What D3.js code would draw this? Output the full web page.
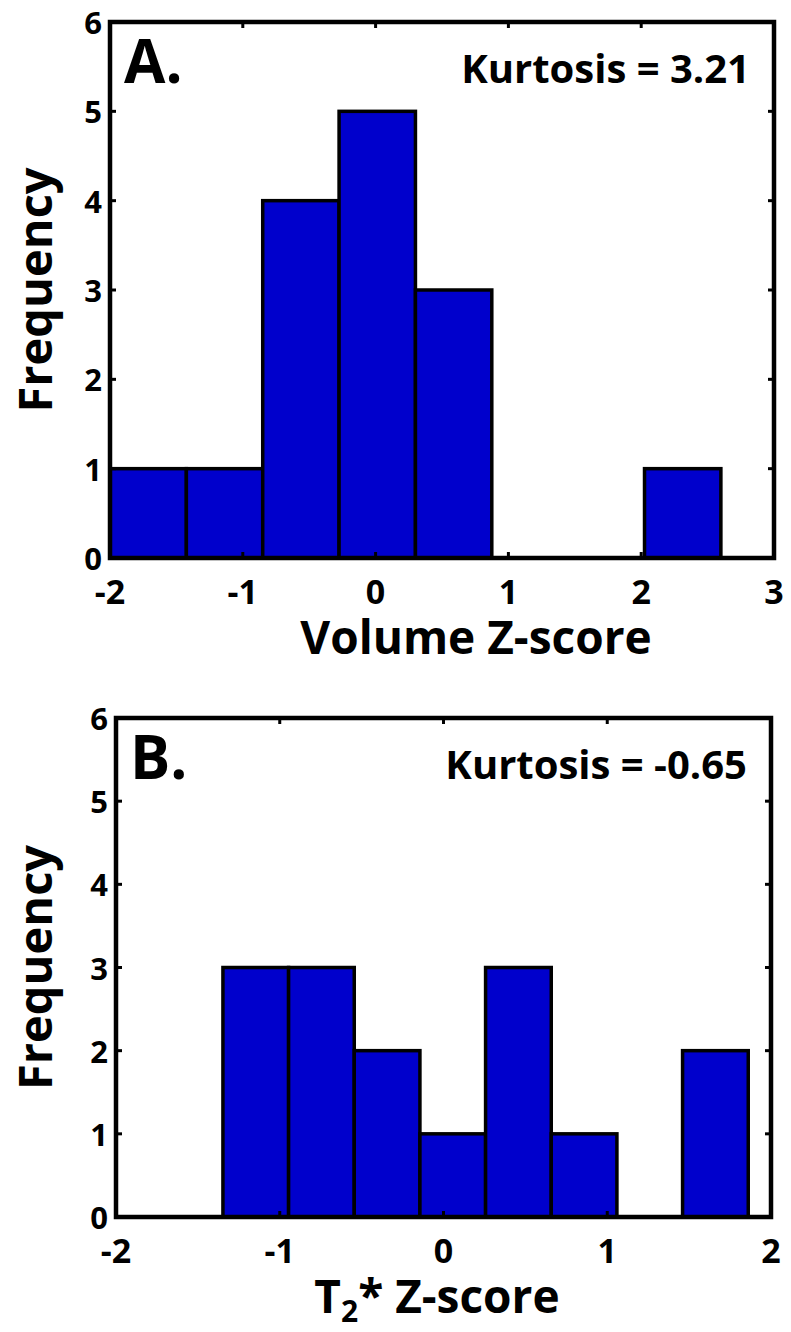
<!DOCTYPE html>
<html>
<head>
<meta charset="utf-8">
<script src="https://cdn.jsdelivr.net/npm/d3@7"></script>
<style>
  body { margin: 0; background: #fff; }
  text { font-family: "Open Sans", sans-serif; font-weight: 700; fill: #000; }
</style>
</head>
<body>
<div id="vis"></div>
<script>
// histogram bins
const edgesA = [-2, -1.425, -0.85, -0.275, 0.30, 0.875, 1.45, 2.025, 2.60];
const countsA = [1, 1, 4, 5, 3, 0, 0, 1];
const edgesB = [-1.347, -0.946, -0.545, -0.144, 0.257, 0.658, 1.059, 1.46, 1.861];
const countsB = [3, 3, 2, 1, 3, 1, 0, 2];
const xTicksA = [-2, -1, 0, 1, 2, 3];
const xTicksB = [-2, -1, 0, 1, 2];
const yTicks = [0, 1, 2, 3, 4, 5, 6];

const W = 791, H = 1332;
const svg = d3.select("#vis").append("svg").attr("width", W).attr("height", H);

function drawPanel(cfg) {
  const x = d3.scaleLinear().domain(cfg.xDomain).range([cfg.left, cfg.right]);
  const y = d3.scaleLinear().domain([0, 6]).range([cfg.bottom, cfg.top]);
  const g = svg.append("g");

  const bins = cfg.counts.map((c, i) => ({x0: cfg.edges[i], x1: cfg.edges[i + 1], n: c}));
  g.selectAll("rect.bar").data(bins.filter(d => d.n > 0)).enter().append("rect")
    .attr("class", "bar")
    .attr("x", d => x(d.x0))
    .attr("y", d => y(d.n))
    .attr("width", d => x(d.x1) - x(d.x0))
    .attr("height", d => y(0) - y(d.n))
    .attr("fill", "#0000cc")
    .attr("stroke", "#000")
    .attr("stroke-width", 3.5);

  // ticks, inward on all four sides (box on)
  const tl = 6;
  cfg.xTicks.forEach(t => {
    g.append("line").attr("x1", x(t)).attr("x2", x(t)).attr("y1", cfg.bottom).attr("y2", cfg.bottom - tl)
      .attr("stroke", "#000").attr("stroke-width", 3);
    g.append("line").attr("x1", x(t)).attr("x2", x(t)).attr("y1", cfg.top).attr("y2", cfg.top + tl)
      .attr("stroke", "#000").attr("stroke-width", 3);
    g.append("text").attr("x", x(t)).attr("y", cfg.bottom + 46)
      .attr("text-anchor", "middle").style("font-size", "34px").text(t);
  });
  yTicks.forEach(t => {
    g.append("line").attr("x1", cfg.left).attr("x2", cfg.left + tl).attr("y1", y(t)).attr("y2", y(t))
      .attr("stroke", "#000").attr("stroke-width", 3);
    g.append("line").attr("x1", cfg.right).attr("x2", cfg.right - tl).attr("y1", y(t)).attr("y2", y(t))
      .attr("stroke", "#000").attr("stroke-width", 3);
    g.append("text").attr("x", cfg.left - 8).attr("y", y(t) + 12)
      .attr("text-anchor", "end").style("font-size", "31px").text(t);
  });

  g.append("rect")
    .attr("x", cfg.left).attr("y", cfg.top)
    .attr("width", cfg.right - cfg.left).attr("height", cfg.bottom - cfg.top)
    .attr("fill", "none").attr("stroke", "#000").attr("stroke-width", 4.5);

  g.append("text").attr("x", cfg.left + 14).attr("y", cfg.top + 61)
    .style("font-size", "60px").text(cfg.letter);
  g.append("text").attr("x", cfg.right - 24).attr("y", cfg.top + 61)
    .attr("text-anchor", "end").style("font-size", "40px").text(cfg.kurt);

  g.append("text")
    .attr("transform", `translate(52,${(cfg.top + cfg.bottom) / 2}) rotate(-90)`)
    .attr("text-anchor", "middle").style("font-size", "47px").text("Frequency");

  const xl = g.append("text").attr("x", cfg.xLabelX).attr("y", cfg.xLabelY)
    .attr("text-anchor", "middle").style("font-size", "46px");
  cfg.xLabel(xl);
}

drawPanel({
  left: 110, right: 774, top: 22, bottom: 558,
  xDomain: [-2, 3], edges: edgesA, counts: countsA, xTicks: xTicksA,
  letter: "A.", kurt: "Kurtosis = 3.21",
  xLabelX: 476, xLabelY: 654,
  xLabel: t => t.text("Volume Z-score")
});

drawPanel({
  left: 116, right: 771, top: 718, bottom: 1217,
  xDomain: [-2, 2], edges: edgesB, counts: countsB, xTicks: xTicksB,
  letter: "B.", kurt: "Kurtosis = -0.65",
  xLabelX: 437, xLabelY: 1313,
  xLabel: t => {
    t.append("tspan").text("T");
    t.append("tspan").attr("dy", 9).style("font-size", "30px").text("2");
    t.append("tspan").attr("dy", -9).text("* Z-score");
  }
});
</script>
</body>
</html>
